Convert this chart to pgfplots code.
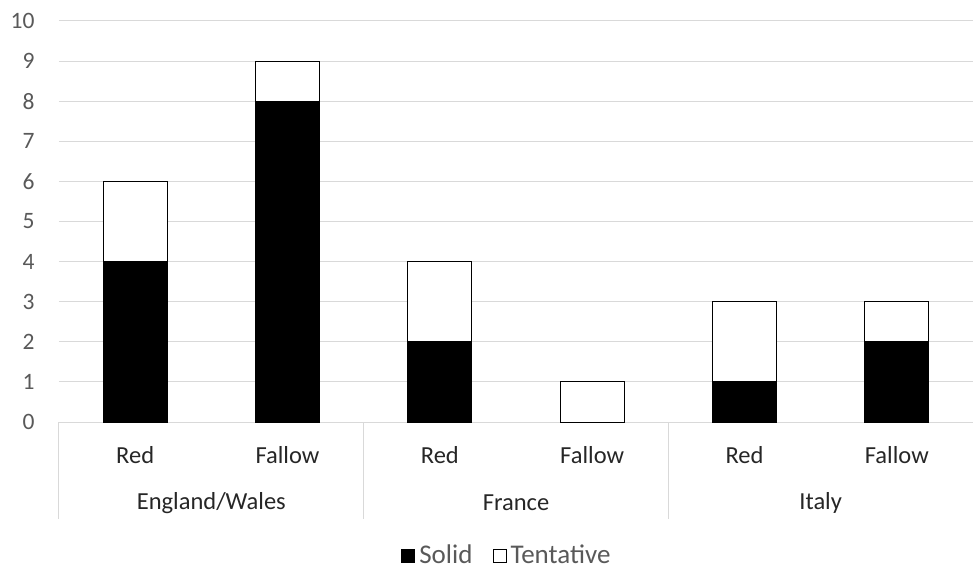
\documentclass[border=0pt]{standalone}
\usepackage{pgfplots}
\pgfplotsset{compat=1.18}
\usepackage{fontspec}
\setmainfont{Carlito}
\definecolor{gridgray}{HTML}{D9D9D9}
\definecolor{ticktext}{HTML}{595959}
\definecolor{labtext}{HTML}{262626}
\begin{document}
\begin{tikzpicture}
\useasboundingbox (-59pt,-145pt) rectangle (914pt,422pt);
\begin{axis}[
  at={(0,0)}, anchor=south west,
  scale only axis, width=914pt, height=401pt,
  ybar stacked, bar width=0.42,
  xmin=-0.5, xmax=5.5, ymin=0, ymax=10,
  xtick=data, xticklabels={Red,Fallow,Red,Fallow,Red,Fallow},
  ytick={0,...,10},
  major tick length=0pt,
  axis x line*=bottom, axis y line*=left,
  x axis line style={gridgray, line width=1pt, -},
  y axis line style={draw=none},
  ymajorgrids, grid style={gridgray, line width=1pt},
  /pgf/number format/assume math mode=true,
  xticklabel style={font=\fontsize{24.5}{28}\selectfont, text=labtext, yshift=-21pt},
  yticklabel style={font=\fontsize{23.5}{27}\selectfont, text=ticktext, xshift=-21pt},
  clip=false,
  legend columns=2,
  legend style={draw=none, fill=none, at={(rel axis cs:0.49,-0.332)}, anchor=center,
    font=\fontsize{27}{29}\selectfont, text=ticktext, inner sep=0pt,
    /tikz/every even column/.append style={column sep=18pt}},
  legend image code/.code={\draw[#1, line width=1pt] (0pt,-7pt) rectangle (13pt,6pt);},
]
\addplot[fill=black, draw=black, line width=1pt] coordinates {(0,4) (1,8) (2,2) (3,0) (4,1) (5,2)};
\addplot[fill=white, draw=black, line width=1pt] coordinates {(0,2) (1,1) (2,2) (3,1) (4,2) (5,1)};
\legend{\hspace{2pt}Solid,\hspace{2pt}Tentative}
\draw[gridgray, line width=1pt] (axis cs:-0.5,0) -- ([yshift=-97pt]axis cs:-0.5,0);
\draw[gridgray, line width=1pt] (axis cs:1.5,0) -- ([yshift=-97pt]axis cs:1.5,0);
\draw[gridgray, line width=1pt] (axis cs:3.5,0) -- ([yshift=-97pt]axis cs:3.5,0);
\draw[gridgray, line width=1pt] (axis cs:5.5,0) -- ([yshift=-97pt]axis cs:5.5,0);
\node[font=\fontsize{24.5}{28}\selectfont, text=labtext] at ([yshift=-81pt]axis cs:0.5,0) {England/Wales};
\node[font=\fontsize{24.5}{28}\selectfont, text=labtext] at ([yshift=-81pt]axis cs:2.5,0) {France};
\node[font=\fontsize{24.5}{28}\selectfont, text=labtext] at ([yshift=-81pt]axis cs:4.5,0) {Italy};
\end{axis}
\end{tikzpicture}
\end{document}
